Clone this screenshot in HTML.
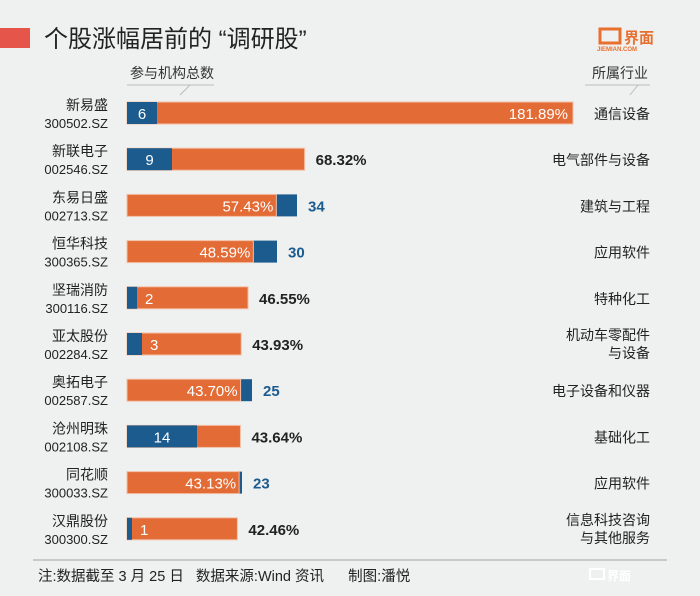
<!DOCTYPE html>
<html><head><meta charset="utf-8"><style>
body{margin:0;background:#eff0f0;font-family:"Liberation Sans","Noto Sans CJK SC",sans-serif;}
#c{position:relative;width:700px;height:596px;overflow:hidden;background:#eff0f0}
</style></head><body>
<div id="c">
<svg id="s" width="700" height="596" style="position:absolute;left:0;top:0">
<rect x="0" y="28" width="30" height="20" fill="#e5554a"/>
<text x="44" y="47" font-size="24" fill="#222">个股涨幅居前的 “调研股”</text>
<g>
<rect x="600" y="29" width="20" height="14" fill="none" stroke="#e8702f" stroke-width="3"/>
<text x="624" y="43" font-size="15" font-weight="bold" fill="#e8702f">界面</text>
<text x="597" y="51" font-size="6" font-weight="bold" fill="#e8702f">JIEMIAN.COM</text>
</g>
<text x="130" y="78" font-size="14" fill="#333">参与机构总数</text>
<path d="M127 85 H214 M190 85 L180 95" stroke="#bbb" fill="none"/>
<text x="648" y="78" font-size="14" fill="#333" text-anchor="end">所属行业</text>
<path d="M585 85 H650 M638 85 L630 95" stroke="#bbb" fill="none"/>
<g id="rows"></g>
<line x1="33" y1="560" x2="667" y2="560" stroke="#bbb" stroke-width="1.5"/>
<text x="38" y="581" font-size="14.5" fill="#222">注:数据截至 3 月 25 日 &#160;&#160;数据来源:Wind 资讯 &#160;&#160;&#160;&#160;&#160;制图:潘悦</text>
<g>
<rect x="590" y="569" width="14" height="10" fill="none" stroke="#fff" stroke-width="2"/>
<text x="607" y="580" font-size="12" font-weight="bold" fill="#fff">界面</text>
</g>
</svg>
</div>
<script>
const names=["新易盛","新联电子","东易日盛","恒华科技","坚瑞消防","亚太股份","奥拓电子","沧州明珠","同花顺","汉鼎股份"];
const codes=["300502.SZ","002546.SZ","002713.SZ","300365.SZ","300116.SZ","002284.SZ","002587.SZ","002108.SZ","300033.SZ","300300.SZ"];
const gains=[181.89,68.32,57.43,48.59,46.55,43.93,43.70,43.64,43.13,42.46];
const counts=[6,9,34,30,2,3,25,14,23,1];
const industries=[["通信设备"],["电气部件与设备"],["建筑与工程"],["应用软件"],["特种化工"],["机动车零配件","与设备"],["电子设备和仪器"],["基础化工"],["应用软件"],["信息科技咨询","与其他服务"]];
const NS="http://www.w3.org/2000/svg";
const g=document.getElementById('rows');
const x0=127;
function gx(p){return Math.min(446,Math.max(0,2.6*p));}
function cx(n){return 5.0*n;}
function ry(i){return 113+i*46.2;}
function mk(t,a,parent){const e=document.createElementNS(NS,t);for(const k in a)e.setAttribute(k,a[k]);(parent||g).appendChild(e);return e;}
for(let i=0;i<names.length;i++){
  const y=ry(i),ow=gx(gains[i]),bw=cx(counts[i]);
  const row=mk('g',{});
  
  
  const t1=mk('text',{x:108,y:y-3,'font-size':14,fill:'#222','text-anchor':'end'},row);t1.textContent=names[i];
  
  
  const t2=mk('text',{x:108,y:y+15,'font-size':13,fill:'#222','text-anchor':'end'},row);t2.textContent=codes[i];
  
  
  const orange={x:x0,y:y-11,width:ow,height:22,fill:'#e36b36',stroke:'#f3c0a5','stroke-width':1};
  const blue={x:x0,y:y-11,width:bw,height:22,fill:'#1b5b8e'};
  let ob,bb;
  if(ow>=bw){ob=mk('rect',orange,row);bb=mk('rect',blue,row);}else{bb=mk('rect',blue,row);ob=mk('rect',orange,row);}
  
  
  
  
  let ct,pt;
  if(ow>=bw){
    if(bw>20){ct=mk('text',{x:x0+bw/2,y:y+6,'font-size':15,fill:'#fff','text-anchor':'middle'},row);}
    else{ct=mk('text',{x:x0+bw+8,y:y+6,'font-size':15,fill:'#fff'},row);}
    ct.textContent=counts[i];
    if(ow>=440){pt=mk('text',{x:x0+ow-5,y:y+6,'font-size':15,fill:'#fff','text-anchor':'end'},row);}
    else{pt=mk('text',{x:x0+ow+11,y:y+6,'font-size':15,fill:'#222','font-weight':'bold'},row);}
    pt.textContent=gains[i].toFixed(2)+'%';
  }else{
    pt=mk('text',{x:x0+ow-3,y:y+6,'font-size':15,fill:'#fff','text-anchor':'end'},row);pt.textContent=gains[i].toFixed(2)+'%';
    ct=mk('text',{x:x0+bw+11,y:y+6,'font-size':15,fill:'#1b5b8e','font-weight':'bold'},row);ct.textContent=counts[i];
  }
  
  
  
  
  const ind=industries[i];
  ind.forEach((s,k)=>{
    const yy=ind.length===1?y+6:y-4+k*18;
    const it=mk('text',{x:650,y:yy,'font-size':14,fill:'#222','text-anchor':'end'},row);it.textContent=s;
    
    
  });
}
</script>
</body></html>
